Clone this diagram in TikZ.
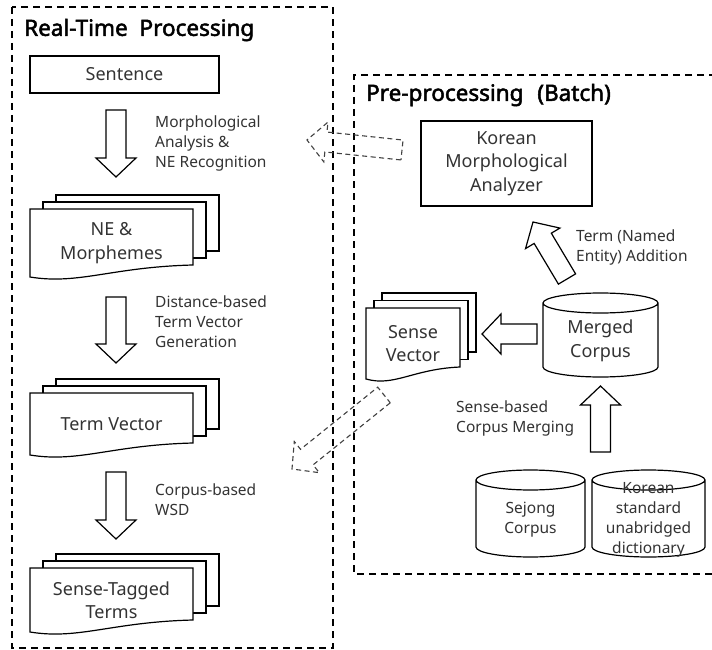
\documentclass[tikz,border=0pt]{standalone}
\usepackage{fontspec}
\setmainfont{Noto Sans}
\newfontfamily\titlefont{Noto Sans}[FakeBold=2.2]
\usetikzlibrary{calc}

\def\shaftw{10pt}
\def\headw{20pt}
\def\headlen{19pt}
\newcommand{\blockarrow}[3][]{%
  \coordinate (ba-h) at ($(#3)!\headlen!(#2)$);
  \draw[barrow,#1] ($(#2)!\shaftw!90:(#3)$) -- ($(ba-h)!\shaftw!-90:(#2)$) -- ($(ba-h)!\headw!-90:(#2)$)
    -- (#3) -- ($(ba-h)!\headw!90:(#2)$) -- ($(ba-h)!\shaftw!90:(#2)$) -- ($(#2)!\shaftw!-90:(#3)$) -- cycle;}
\newcommand{\docstack}[7]{%
  \begin{scope}[shift={#2}]
    \draw[box] (2*#5,2*#6) rectangle ++(#3,-#4);
    \draw[box] (#5,#6) rectangle ++(#3,-#4);
    \draw[box] (0,0) -- (#3,0) -- (#3,-#4) .. controls (0.5*#3,-#4-2) and (0.3*#3,-#4-20) .. (0,-#4-12) -- cycle;
    \node[boxtext] (#1) at (0.5*#3,-#4/2-6) {#7};
  \end{scope}}
\newcommand{\drum}[6]{%
  \begin{scope}[shift={#2}]
    \draw[box] (-#3,#4-10) -- (-#3,-#4+10) arc[start angle=180,end angle=360,x radius=#3,y radius=10]
      -- (#3,#4-10) arc[start angle=0,end angle=180,x radius=#3,y radius=10]
      arc[start angle=180,end angle=360,x radius=#3,y radius=10];
    \node[#5] (#1) at (0,-6) {#6};
  \end{scope}}

\begin{document}
\begin{tikzpicture}[x=1pt,y=1pt,
    every node/.style={text=black!80, inner sep=0pt},
    frame/.style={line width=1.4pt, dash pattern=on 7pt off 5pt},
    box/.style={draw, line width=1.2pt, fill=white},
    barrow/.style={draw, line width=1.2pt, fill=white, line join=miter},
    ghost/.style={draw=black!75, line width=1.1pt, dash pattern=on 5pt off 3.5pt, fill=none},
    title/.style={anchor=west, text=black, font=\fontsize{22.5}{27}\titlefont},
    boxtext/.style={align=center, font=\fontsize{18}{23.5}\selectfont},
    dbtext/.style={align=center, font=\fontsize{15.5}{20}\selectfont},
    note/.style={anchor=west, align=left, font=\fontsize{15.5}{20}\selectfont}]
    \useasboundingbox (0,0) rectangle (712,-650);
    \draw[frame] (12,-7) rectangle (333,-648);
    \draw[frame] (716,-75) -- (354,-75) -- (354,-574) -- (716,-574);
    \node[title] (rt) at (24,-30) {Real-Time\hspace{6pt} Processing};
    \node[title] (pp) at (366,-95) {Pre-processing\hspace{8pt} (Batch)};

    \node[box, boxtext, minimum width=189pt, minimum height=37pt] (sent) at (124.5,-74.5) {Sentence};
    \docstack{nem}{(30,-209)}{163}{56}{13}{7}{NE \&\\Morphemes}
    \docstack{tvec}{(30,-393)}{163}{50}{13}{7}{Term Vector}
    \docstack{stt}{(30,-568)}{163}{52}{13}{7}{Sense-Tagged\\Terms}

    \node[box, boxtext, minimum width=171pt, minimum height=85pt] (kma) at (506.5,-163.5) {Korean\\Morphological\\Analyzer};
    \docstack{svec}{(366,-308)}{94}{59}{8}{7.5}{Sense\\Vector}
    \drum{merged}{(600.5,-335)}{57.5}{42}{boxtext}{Merged\\Corpus}
    \drum{sejong}{(530.5,-513.5)}{54.5}{43.5}{dbtext}{Sejong\\Corpus}
    \drum{dict}{(648.5,-513.5)}{56.5}{43.5}{dbtext}{Korean\\standard\\unabridged\\dictionary}

    \coordinate (m1) at (116,-110);   \coordinate (m2) at (116,-177);
    \coordinate (d1) at (116,-297);   \coordinate (d2) at (116,-363);
    \coordinate (w1) at (116,-472);   \coordinate (w2) at (116,-539);
    \coordinate (t1) at (567,-279);   \coordinate (t2) at (533,-222);
    \coordinate (v1) at (537,-334);   \coordinate (v2) at (482,-334);
    \coordinate (c1) at (600.5,-452); \coordinate (c2) at (600.5,-386);
    \coordinate (k1) at (402,-150);   \coordinate (k2) at (307,-140);
    \coordinate (s1) at (384,-395);   \coordinate (s2) at (292,-469);
    \blockarrow{m1}{m2}
    \blockarrow{d1}{d2}
    \blockarrow{w1}{w2}
    \blockarrow{t1}{t2}
    \blockarrow{v1}{v2}
    \blockarrow{c1}{c2}
    \blockarrow[ghost]{k1}{k2}
    \blockarrow[ghost]{s1}{s2}

    \node[note] (l1) at (155,-143) {Morphological\\Analysis \&\\NE Recognition};
    \node[note] (l2) at (155,-322) {Distance-based\\Term Vector\\Generation};
    \node[note] (l3) at (155,-499.5) {Corpus-based\\WSD};
    \node[note] (l4) at (576,-247) {Term (Named\\Entity) Addition};
    \node[note] (l5) at (456,-418) {Sense-based\\Corpus Merging};
\end{tikzpicture}
\end{document}
